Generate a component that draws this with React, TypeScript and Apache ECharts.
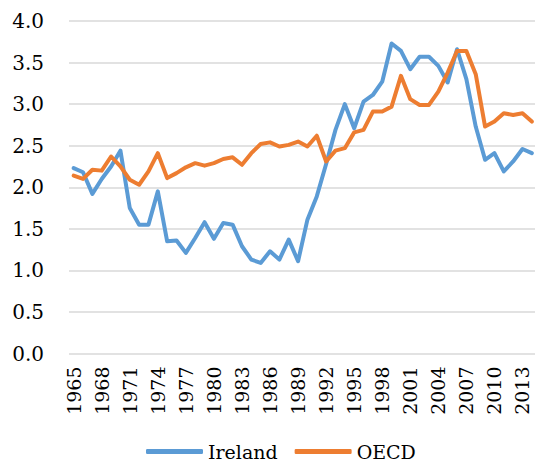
import React, { useEffect, useRef } from "react";
import * as echarts from "echarts";

const years: string[] = [];
for (let y = 1965; y <= 2014; y++) years.push(String(y));

const ireland = [
  2.23, 2.18, 1.92, 2.1, 2.25, 2.44, 1.75, 1.55, 1.55, 1.95,
  1.35, 1.36, 1.21, 1.39, 1.58, 1.38, 1.57, 1.55, 1.29, 1.13,
  1.09, 1.23, 1.13, 1.37, 1.11, 1.61, 1.89, 2.28, 2.69, 3.0,
  2.71, 3.03, 3.11, 3.27, 3.73, 3.64, 3.42, 3.57, 3.57, 3.46,
  3.26, 3.66, 3.3, 2.73, 2.33, 2.41, 2.19, 2.31, 2.46, 2.41,
];

const oecd = [
  2.14, 2.1, 2.21, 2.2, 2.37, 2.25, 2.09, 2.03, 2.19, 2.41,
  2.11, 2.17, 2.24, 2.29, 2.26, 2.29, 2.34, 2.36, 2.27, 2.41,
  2.52, 2.54, 2.49, 2.51, 2.55, 2.49, 2.62, 2.31, 2.44, 2.47,
  2.66, 2.69, 2.91, 2.91, 2.97, 3.34, 3.06, 2.99, 2.99, 3.15,
  3.38, 3.64, 3.64, 3.36, 2.73, 2.79, 2.89, 2.87, 2.89, 2.79,
];

const FONT = "'DejaVu Serif'";

export default function App() {
  const ref = useRef<HTMLDivElement>(null);
  useEffect(() => {
    if (!ref.current) return;
    const chart = echarts.init(ref.current, undefined, { renderer: "svg" });
    chart.setOption({
      animation: false,
      backgroundColor: "#ffffff",
      textStyle: { fontFamily: FONT },
      grid: {
        left: 69,
        top: 21,
        right: -1.5,
        bottom: 110.5,
        containLabel: false,
        outerBoundsMode: "none",
      },
      legend: {
        left: 146,
        top: 442,
        padding: 0,
        icon: "roundRect",
        itemWidth: 57,
        itemHeight: 5,
        itemGap: 17,
        textStyle: { fontFamily: FONT, fontSize: 19, color: "#000" },
        data: ["Ireland", "OECD"],
      },
      xAxis: {
        type: "category",
        data: years,
        boundaryGap: true,
        axisLine: { show: false },
        axisTick: { show: false },
        axisLabel: {
          interval: 2,
          rotate: 90,
          margin: 13,
          fontFamily: FONT,
          fontSize: 19,
          color: "#000",
        },
      },
      yAxis: {
        type: "value",
        min: 0,
        max: 4,
        interval: 0.5,
        axisLine: { show: false },
        axisTick: { show: false },
        splitLine: { lineStyle: { color: "#d9d9d9", width: 1.5 } },
        axisLabel: {
          margin: 25,
          fontFamily: FONT,
          fontSize: 20,
          color: "#000",
          formatter: (v: number) => v.toFixed(1),
        },
      },
      series: [
        {
          name: "Ireland",
          type: "line",
          data: ireland,
          symbol: "none",
          lineStyle: { color: "#5B9BD5", width: 4, join: "round", cap: "round" },
          itemStyle: { color: "#5B9BD5" },
        },
        {
          name: "OECD",
          type: "line",
          data: oecd,
          symbol: "none",
          lineStyle: { color: "#ED7D31", width: 4, join: "round", cap: "round" },
          itemStyle: { color: "#ED7D31" },
        },
      ],
    });
    return () => chart.dispose();
  }, []);
  return (
    <div
      ref={ref}
      style={{ position: "fixed", left: 0, top: 0, width: 535, height: 464 }}
    />
  );
}
